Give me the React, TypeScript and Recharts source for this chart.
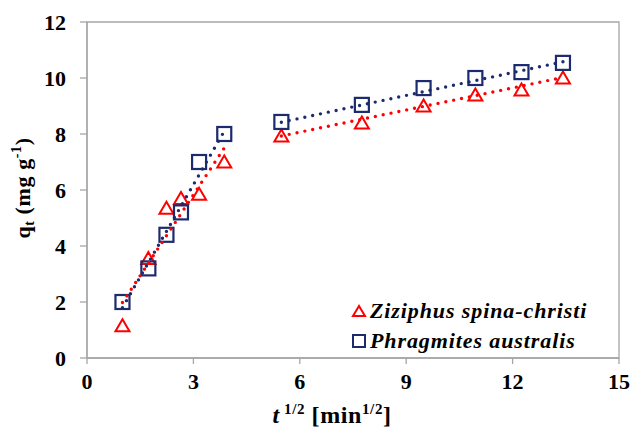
import React from "react";
import {
  ScatterChart,
  Scatter,
  XAxis,
  YAxis,
  ReferenceArea
} from "recharts";

// square root of contact time (min^1/2)
const tRoot = [1, 1.73, 2.24, 2.65, 3.16, 3.87, 5.48, 7.75, 9.49, 10.95, 12.25, 13.42];

// uptake q_t (mg/g)
const ziziphusQ = [1.15, 3.55, 5.35, 5.7, 5.85, 7.0, 7.93, 8.39, 9.0, 9.39, 9.57, 10.0];
const phragmitesQ = [2.0, 3.2, 4.4, 5.2, 7.0, 8.0, 8.43, 9.04, 9.64, 10.0, 10.21, 10.54];

// ends of the fitted lines, stage 1 and stage 2
const ziziphusFitX1 = [1, 3.87];
const ziziphusFitY1 = [1.98, 7.5];
const ziziphusFitX2 = [5.48, 13.42];
const ziziphusFitY2 = [7.93, 10.02];
const phragmitesFitX1 = [1, 3.87];
const phragmitesFitY1 = [1.8, 8.1];
const phragmitesFitX2 = [5.48, 13.42];
const phragmitesFitY2 = [8.42, 10.58];

const xTicks = [0, 3, 6, 9, 12, 15];
const yTicks = [0, 2, 4, 6, 8, 10, 12];

const RED = "#ff0000";
const NAVY = "#1c2a6e";
const GREY = "#a6a6a6";
const SERIF = "Times New Roman, Liberation Serif, DejaVu Serif, serif";

const pts = (xs: number[], ys: number[]) =>
  xs.map((x, i) => ({ x, y: ys[i] }));

const Triangle = (p: any) => (
  <polygon
    points={`${p.cx},${p.cy - 6.5} ${p.cx - 7},${p.cy + 5.5} ${p.cx + 7},${p.cy + 5.5}`}
    fill="none"
    stroke={RED}
    strokeWidth={2}
  />
);

const Square = (p: any) => (
  <rect
    x={p.cx - 7}
    y={p.cy - 7}
    width={14}
    height={14}
    fill="none"
    stroke={NAVY}
    strokeWidth={2.2}
  />
);

const Nothing = () => <g />;

const dotted = (color: string) => ({
  stroke: color,
  strokeWidth: 3.4,
  strokeDasharray: "0 8",
  strokeLinecap: "round" as const
});

const YTitle = (props: any) => {
  const vb = props.viewBox;
  const cx = 30;
  const cy = vb.y + vb.height / 2 - 2;
  return (
    <text
      x={cx}
      y={cy}
      transform={`rotate(-90, ${cx}, ${cy})`}
      textAnchor="middle"
      fontFamily={SERIF}
      fontWeight="bold"
      fontSize={22}
      letterSpacing={0.6}
      fill="#000"
    >
      q<tspan fontSize={14} dy={4}>t</tspan>
      <tspan dy={-4}> (mg g</tspan>
      <tspan fontSize={14} dy={-9}>-1</tspan>
      <tspan dy={9}>)</tspan>
    </text>
  );
};

const XTitle = (props: any) => {
  const vb = props.viewBox;
  return (
    <text
      x={vb.x + vb.width / 2 - 21}
      y={vb.y + 65}
      textAnchor="middle"
      fontFamily={SERIF}
      fontWeight="bold"
      fontSize={24}
      letterSpacing={0.6}
      fill="#000"
    >
      <tspan fontStyle="italic">t</tspan>
      <tspan fontSize={15} dy={-9}> 1/2</tspan>
      <tspan dy={9}> [min</tspan>
      <tspan fontSize={15} dy={-9}>1/2</tspan>
      <tspan dy={9}>]</tspan>
    </text>
  );
};

const legendRows = [
  { name: "Ziziphus spina-christi", color: RED, kind: "tri" },
  { name: "Phragmites australis", color: NAVY, kind: "sq" }
];

// legend sits inside the plot, lower right
const LegendBox = () => (
  <div
    style={{
      position: "absolute",
      left: 351,
      top: 296,
      fontFamily: SERIF,
      fontWeight: "bold",
      fontStyle: "italic",
      fontSize: 22,
      letterSpacing: 0.9
    }}
  >
    {legendRows.map((r) => (
      <div
        key={r.name}
        style={{ display: "flex", alignItems: "center", height: 30, lineHeight: "30px", whiteSpace: "nowrap" }}
      >
        <svg width={16} height={16} style={{ marginRight: 3 }}>
          {r.kind === "tri" ? (
            <polygon points="8,3 2,13 14,13" fill="none" stroke={r.color} strokeWidth={2} />
          ) : (
            <rect x={2} y={2} width={12} height={12} fill="none" stroke={r.color} strokeWidth={2} />
          )}
        </svg>
        <span>{r.name}</span>
      </div>
    ))}
  </div>
);

export default function App() {
  const tickStyle = {
    fill: "#000",
    fontFamily: SERIF,
    fontWeight: "bold",
    fontSize: 22
  };

  return (
    <div style={{ position: "absolute", left: 0, top: 0, width: 634, height: 430, background: "#fff" }}>
      <ScatterChart
        width={634}
        height={430}
        margin={{ top: 22, right: 15, left: 0, bottom: 0 }}
      >
        <XAxis
          type="number"
          dataKey="x"
          domain={[0, 15]}
          ticks={xTicks}
          height={72}
          tickSize={6}
          tickMargin={9}
          tick={tickStyle}
          axisLine={{ stroke: GREY, strokeWidth: 1.3 }}
          tickLine={{ stroke: GREY, strokeWidth: 1.3 }}
          label={XTitle}
        />
        <YAxis
          type="number"
          dataKey="y"
          domain={[0, 12]}
          ticks={yTicks}
          width={87}
          tickSize={7}
          tickMargin={14}
          tick={tickStyle}
          axisLine={{ stroke: GREY, strokeWidth: 1.3 }}
          tickLine={{ stroke: GREY, strokeWidth: 1.3 }}
          label={YTitle}
        />
        <ReferenceArea
          x1={0}
          x2={15}
          y1={0}
          y2={12}
          fill="none"
          stroke={GREY}
          strokeWidth={1.3}
          ifOverflow="visible"
        />
        <Scatter
          data={pts(tRoot, ziziphusQ)}
          shape={Triangle}
          isAnimationActive={false}
        />
        <Scatter
          data={pts(tRoot, phragmitesQ)}
          shape={Square}
          isAnimationActive={false}
        />
        <Scatter
          data={pts(ziziphusFitX1, ziziphusFitY1)}
          line={dotted(RED)}
          shape={Nothing}
          isAnimationActive={false}
        />
        <Scatter
          data={pts(ziziphusFitX2, ziziphusFitY2)}
          line={dotted(RED)}
          shape={Nothing}
          isAnimationActive={false}
        />
        <Scatter
          data={pts(phragmitesFitX1, phragmitesFitY1)}
          line={dotted(NAVY)}
          shape={Nothing}
          isAnimationActive={false}
        />
        <Scatter
          data={pts(phragmitesFitX2, phragmitesFitY2)}
          line={dotted(NAVY)}
          shape={Nothing}
          isAnimationActive={false}
        />
      </ScatterChart>
      <LegendBox />
    </div>
  );
}
